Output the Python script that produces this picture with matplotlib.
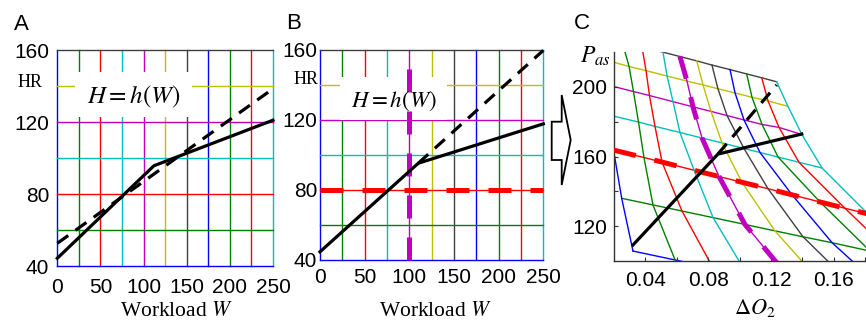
import matplotlib

matplotlib.use("Agg")
import matplotlib.pyplot as plt
from matplotlib.patches import Rectangle, Polygon

plt.rcParams["font.family"] = ["Liberation Sans", "DejaVu Sans"]
plt.rcParams["mathtext.fontset"] = "stix"

# grid of panels A and B
workload_grid = [0, 25, 50, 75, 100, 125, 150, 175, 200, 225, 250]
hr_grid = [40, 60, 80, 100, 120, 140, 160]
grid_colors = ["#0000ff", "#008000", "#ff0000", "#00bfbf", "#bf00bf", "#bfbf00", "#404040"]

ab_xticks = [0, 50, 100, 150, 200, 250]
ab_yticks = [40, 80, 120, 160]

# H = h(W) in panel A
a_solid_w = [0, 112, 250]
a_solid_h = [44.3, 95.7, 121.0]
a_dash_w = [0, 250]
a_dash_h = [52.6, 138.5]

# panel B
b_solid_w = [0, 110, 250]
b_solid_h = [44.4, 95.0, 117.5]
b_dash_w = [110, 250]
b_dash_h = [95.0, 159.5]
b_fixed_w = 100
b_fixed_h = 80

# panel C: image of the A/B grid, rows follow hr_grid, columns follow workload_grid
c_o2 = [
    [0.0321, 0.0589, 0.0831, 0.1054, 0.1355, 0.1582, 0.1827, 0.2058, 0.2330, 0.2521, 0.2715],
    [0.0249, 0.0448, 0.0633, 0.0831, 0.1034, 0.1225, 0.1404, 0.1589, 0.1831, 0.1990, 0.2155],
    [0.0197, 0.0391, 0.0506, 0.0710, 0.0869, 0.1015, 0.1181, 0.1334, 0.1512, 0.1671, 0.1818],
    [0.0168, 0.0356, 0.0461, 0.0620, 0.0761, 0.0888, 0.1028, 0.1130, 0.1245, 0.1378, 0.1525],
    [0.0136, 0.0324, 0.0426, 0.0576, 0.0703, 0.0818, 0.0920, 0.1028, 0.1143, 0.1251, 0.1397],
    [0.0098, 0.0296, 0.0404, 0.0538, 0.0665, 0.0767, 0.0862, 0.0971, 0.1079, 0.1181, 0.1308],
    [0.0060, 0.0251, 0.0378, 0.0512, 0.0620, 0.0727, 0.0824, 0.0939, 0.1045, 0.1141, 0.1236],
]
c_pas = [
    [105.7, 100.6, 96.0, 91.4, 86.1, 81.2, 76.5, 72.0, 66.6, 62.9, 59.1],
    [136.0, 132.2, 128.7, 124.9, 121.0, 117.3, 113.9, 110.5, 105.7, 102.6, 99.5],
    [163.7, 159.4, 156.8, 152.1, 148.5, 145.2, 141.5, 138.0, 133.9, 130.3, 127.0],
    [183.8, 179.8, 177.3, 173.8, 170.6, 167.8, 164.6, 162.3, 159.7, 156.7, 153.4],
    [201.6, 197.3, 195.0, 191.5, 188.5, 185.9, 183.5, 181.0, 178.4, 176.7, 172.6],
    [216.6, 211.7, 209.3, 206.2, 203.3, 201.1, 198.9, 196.5, 194.0, 191.9, 188.8],
    [230.9, 226.0, 223.0, 219.9, 217.4, 214.9, 212.5, 209.9, 207.4, 205.2, 202.9],
]
c_solid_o2 = [0.0321, 0.0862, 0.1396]
c_solid_pas = [109.2, 161.4, 172.9]
c_dash_o2 = [0.0862, 0.1236]
c_dash_pas = [161.4, 201.1]

c_xticks = [0.04, 0.06, 0.08, 0.10, 0.12, 0.14, 0.16, 0.18]
c_xticklabels = ["0.04", "", "0.08", "", "0.12", "", "0.16", ""]
c_yticks = [120, 140, 160, 180, 200]
c_yticklabels = ["120", "", "160", "", "200"]

W, H = 866, 322


def px_rect(left, top, right, bottom):
    return [left / W, 1 - bottom / H, (right - left) / W, (bottom - top) / H]


def fig_xy(x, y):
    return x / W, 1 - y / H


def draw_grid(ax):
    for i, w in enumerate(workload_grid):
        ax.plot([w, w], [hr_grid[0], hr_grid[-1]], color=grid_colors[i % 7],
                lw=1.0, clip_on=False, zorder=1)
    for i, h in enumerate(hr_grid):
        ax.plot([workload_grid[0], workload_grid[-1]], [h, h], color=grid_colors[i % 7],
                lw=1.0, clip_on=False, zorder=1)
    ax.set_xlim(0, 250)
    ax.set_ylim(40, 160)
    ax.set_xticks(ab_xticks)
    ax.set_yticks(ab_yticks)
    for s in ax.spines.values():
        s.set_visible(False)


fig = plt.figure(figsize=(W / 100, H / 100), dpi=100)

# panel A
ax_a = fig.add_axes(px_rect(57.3, 50, 273, 266))
draw_grid(ax_a)
ax_a.add_patch(Rectangle((20.5, 122.8), 135.5, 25, facecolor="white", edgecolor="none", zorder=2))
ax_a.plot(a_solid_w, a_solid_h, color="black", lw=2.3, zorder=4, clip_on=False)
ax_a.plot(a_dash_w, a_dash_h, color="black", lw=2.3, dashes=(4.2, 2.8), zorder=4, clip_on=False)
ax_a.text(89, 130.4, r"$H=h(W)$", fontsize=18, ha="center", va="baseline", zorder=5)
ax_a.text(-17, 142, "HR", family="Liberation Serif", fontsize=13, ha="right", va="center")
ax_a.tick_params(axis="both", length=0, labelsize=15)
ax_a.tick_params(axis="y", pad=5.8)
ax_a.tick_params(axis="x", pad=8.6)

# panel B
ax_b = fig.add_axes(px_rect(320, 49.5, 543.3, 259.5))
draw_grid(ax_b)
ax_b.add_patch(Rectangle((22.4, 119.5), 119.8, 24.8, facecolor="white", edgecolor="none", zorder=2))
ax_b.plot([0, 250], [b_fixed_h, b_fixed_h], color="#ff0000", lw=3.6, dashes=(4.6, 3.8),
          zorder=3, clip_on=False)
ax_b.plot([b_fixed_w, b_fixed_w], [40, 160], color="#bf00bf", lw=3.6, dashes=(4.6, 3.8),
          zorder=3, clip_on=False)
ax_b.plot(b_solid_w, b_solid_h, color="black", lw=2.3, zorder=4, clip_on=False)
ax_b.plot(b_dash_w, b_dash_h, color="black", lw=2.3, dashes=(4.2, 2.8), zorder=4, clip_on=False)
ax_b.text(83, 127.3, r"$H=h(W)$", fontsize=16.5, ha="center", va="baseline", zorder=5)
ax_b.text(-2.2, 142.6, "HR", family="Liberation Serif", fontsize=13, ha="right", va="center")
ax_b.tick_params(axis="both", length=0, labelsize=15)
ax_b.tick_params(axis="y", pad=2)
ax_b.tick_params(axis="x", pad=6)

# panel C
ax_c = fig.add_axes(px_rect(614, 52, 866, 261))
for i in range(len(hr_grid)):
    ax_c.plot(c_o2[i], c_pas[i], color=grid_colors[i % 7], lw=1.0, zorder=1)
for j in range(len(workload_grid)):
    col_o2 = [row[j] for row in c_o2]
    col_pas = [row[j] for row in c_pas]
    ax_c.plot(col_o2, col_pas, color=grid_colors[j % 7], lw=1.0, zorder=1)
i80 = hr_grid.index(b_fixed_h)
j100 = workload_grid.index(b_fixed_w)
ax_c.plot(c_o2[i80], c_pas[i80], color="#ff0000", lw=3.6, dashes=(4.6, 3.8), zorder=3)
ax_c.plot([row[j100] for row in c_o2][::-1], [row[j100] for row in c_pas][::-1],
          color="#bf00bf", lw=3.6, dashes=(4.6, 3.8), zorder=3)
ax_c.plot(c_solid_o2, c_solid_pas, color="black", lw=2.3, zorder=4)
ax_c.plot(c_dash_o2, c_dash_pas, color="black", lw=2.3, dashes=(4.2, 2.8), zorder=4)
ax_c.set_xlim(0.02, 0.02 + 252 / 1570)
ax_c.set_ylim(100, 220)
ax_c.set_xticks(c_xticks)
ax_c.set_xticklabels(c_xticklabels)
ax_c.set_yticks(c_yticks)
ax_c.set_yticklabels(c_yticklabels)
ax_c.spines["top"].set_visible(False)
ax_c.spines["right"].set_visible(False)
for s in ("left", "bottom"):
    ax_c.spines[s].set_color("#333333")
    ax_c.spines[s].set_linewidth(1.0)
ax_c.tick_params(axis="both", direction="in", length=3, color="#333333", labelsize=15)
ax_c.tick_params(axis="y", pad=5)
ax_c.tick_params(axis="x", pad=7)

# labels and arrow
for letter, (x, y) in zip("ABC", [(21, 25), (294, 23.5), (582, 23.5)]):
    fig.text(*fig_xy(x, y), letter, fontsize=16, ha="center", va="center")
for x in (176, 435):
    fig.text(*fig_xy(x, 311), r"Workload $W$", family="Liberation Serif",
             fontsize=15.5, ha="center", va="center")
fig.text(*fig_xy(755, 308), r"$\Delta O_2$", fontsize=16, ha="center", va="center")
fig.text(*fig_xy(595, 56), r"$P_{as}$", fontsize=17, ha="center", va="center")

arrow_px = [(551.7, 121.7), (561.7, 121.7), (561.7, 95), (570.7, 140),
            (561.7, 185), (561.7, 160), (551.7, 160)]
fig.patches.append(Polygon([fig_xy(x, y) for x, y in arrow_px], closed=True,
                           facecolor="white", edgecolor="black", lw=1.3,
                           transform=fig.transFigure, figure=fig))

fig.savefig("out.png", dpi=100)
plt.close(fig)
